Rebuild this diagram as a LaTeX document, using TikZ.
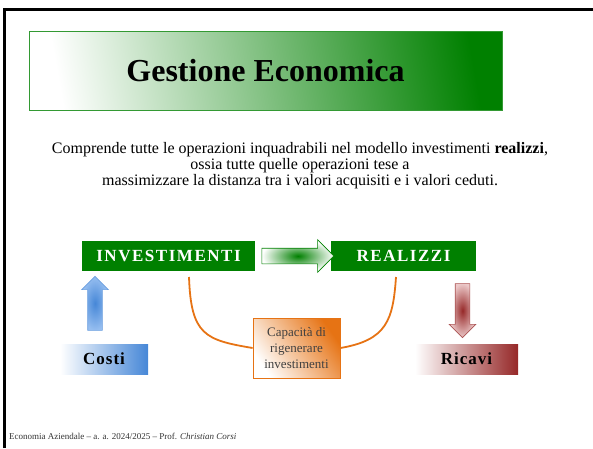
\documentclass[tikz,border=0pt]{standalone}
\usepackage{fontspec}
\setmainfont{Liberation Serif}
\usetikzlibrary{shapes.arrows,shadings}
\usepackage{xcolor}

\definecolor{slidegreen}{RGB}{0,128,0}
\definecolor{costblue}{RGB}{70,135,215}
\definecolor{costlight}{RGB}{150,190,240}
\definecolor{revred}{RGB}{150,40,40}
\definecolor{revlight}{RGB}{235,200,200}
\definecolor{capor}{RGB}{230,115,20}

\begin{document}
\begin{tikzpicture}[
    x = 1pt, y = -1pt,
    every node/.style = {inner sep = 0pt},
    greenbox/.style = {
        fill = slidegreen, text = white,
        minimum height = 30pt,
        font = \fontsize{17}{20}\selectfont\bfseries\addfontfeature{LetterSpace=9}
    },
    resultbox/.style = {
        minimum height = 30pt,
        font = \fontsize{17}{20}\selectfont\bfseries\addfontfeature{LetterSpace=6}
    },
    blockarrow/.style = {
        single arrow, draw, line width = 0.6pt,
        inner xsep = 0pt, inner ysep = 7pt,
        single arrow head extend = 6pt
    },
    uprightarrow/.style = {
        blockarrow, inner xsep = 7pt, inner ysep = 0pt,
        minimum height = 54pt
    }
]
\useasboundingbox (0,0) rectangle (593,448);

% slide frame
\draw[line width = 3pt] (4,448) -- (4,9) -- (593,9);

% title
\node (title) [draw = slidegreen!80, line width = 0.6pt,
    minimum width = 473pt, minimum height = 79pt,
    left color = white, right color = slidegreen, shading angle = 100,
    font = \fontsize{32}{38}\selectfont\bfseries] at (265.5,70.5) {Gestione Economica};

\node (intro) [align = center, font = \fontsize{16}{16}\selectfont] at (300,166)
    {Comprende tutte le operazioni inquadrabili nel modello investimenti \textbf{realizzi},\\
     ossia tutte quelle operazioni tese a\\
     massimizzare la distanza tra i valori acquisiti e i valori ceduti.};

% main flow
\node (inv) [greenbox, minimum width = 173pt] at (168.5,256) {INVESTIMENTI};
\node (real) [greenbox, minimum width = 145pt] at (403.5,256) {REALIZZI};
\node (flow) [blockarrow, draw = slidegreen, minimum height = 72pt,
    inner ysep = 7.5pt, single arrow head extend = 8.5pt,
    inner color = slidegreen, outer color = white] at (294,256) {};

% costs and revenues
\node (up) [uprightarrow, draw = costblue!80, shape border rotate = 90,
    inner color = costblue, outer color = costlight] at (95,307) {};
\node (down) [uprightarrow, draw = revred!80, shape border rotate = 270,
    inner color = revred, outer color = revlight] at (462.5,307) {};
\node (costi) [resultbox, minimum width = 88pt,
    left color = white, right color = costblue] at (104,359) {Costi};
\node (ricavi) [resultbox, minimum width = 103pt,
    left color = white, right color = revred] at (466.5,359) {Ricavi};

% regeneration
\node (cap) [draw = capor, line width = 0.8pt, minimum width = 87pt, minimum height = 60pt,
    align = center, text = black!75,
    left color = white, right color = capor, shading angle = 125,
    font = \fontsize{13}{16}\selectfont] at (296.5,348)
    {Capacità di\\rigenerare\\investimenti};
\coordinate (invfoot) at (189,277);
\coordinate (realfoot) at (396,277);
\draw[capor, line width = 1.8pt] (invfoot) .. controls (191,335) and (205,340) .. (cap.west);
\draw[capor, line width = 1.8pt] (cap.east) .. controls (387,340) and (393,320) .. (realfoot);

% footer
\node (foot) [anchor = west, font = \fontsize{9}{11}\selectfont, text = black!80] at (9,436)
    {Economia Aziendale -- a. a. 2024/2025 -- Prof. \textit{Christian Corsi}};
\end{tikzpicture}
\end{document}
